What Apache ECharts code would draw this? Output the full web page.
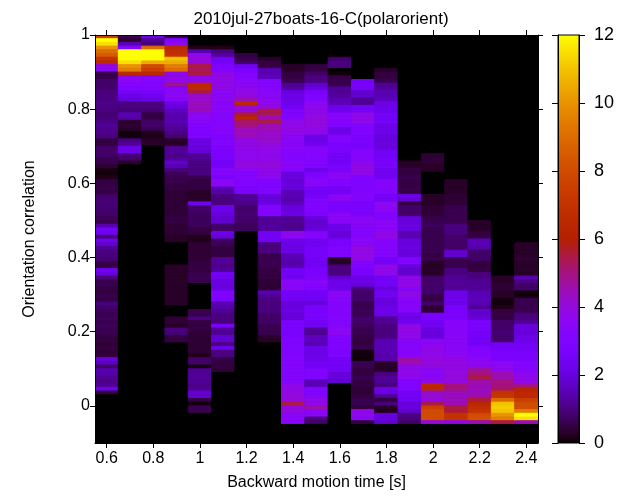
<!DOCTYPE html>
<html><head><meta charset="utf-8">
<script src="https://cdn.jsdelivr.net/npm/echarts@6/dist/echarts.min.js"></script>
<style>html,body{margin:0;padding:0;background:#fff}#c{width:621px;height:496px}</style>
</head><body><div id="c"></div>
<script>
// Column centres (Backward motion time [s]); each column is 0.1 wide
const xCenters = [0.6,0.7,0.8,0.9,1.0,1.1,1.2,1.3,1.4,1.5,1.6,1.7,1.8,1.9,2.0,2.1,2.2,2.3,2.4];
// Orientation-correlation bins of 0.01, listed from the top bin (0.99..1.00) down to (-0.10..-0.09)
const c06 = [7.5,12,11.5,10,9,8.5,7,6.5,3.8,3.5,
0.6,0.6,0.8,0.8,0.8,1.0,1.0,1.0,1.1,1.0,
1.0,0.9,0.9,1.1,1.2,1.1,1.1,1.0,0.5,0.5,
0.8,0.8,0.8,0.6,0.6,0.4,0.15,0.1,0.2,0.5,
0.5,0.6,0.5,0.8,0.9,0.9,0.9,0.8,0.8,0.7,
0.6,1.5,2.5,2.3,1.0,2.2,1.8,1.2,1.0,1.0,
0.9,0.6,0.5,2.4,2.0,1.0,0.6,0.6,0.5,0.5,
0.6,0.5,1.0,0.8,0.7,0.6,0.7,0.6,0.7,0.6,
0.6,0.5,0.5,0.4,0.5,0.4,0.5,2.0,1.6,0.8,
1.5,1.4,1.2,1.1,1.2,2.2,0.5,0,0,0,
0,0,0,0,0,0,0,0,0,0];
const c07 = [0.6,0.4,1.5,3.2,12,12,12,11.5,10,9.5,
6.5,3.6,3.5,3.2,3.0,2.6,2.2,2.0,1.0,1.0,
0.9,1.5,1.4,0.3,0.4,0.3,0.1,0.1,1.0,1.2,
2.2,2.2,0.9,0.8,0.3,0,0,0,0,0,
0,0,0,0,0,0,0,0,0,0,
0,0,0,0,0,0,0,0,0,0,
0,0,0,0,0,0,0,0,0,0,
0,0,0,0,0,0,0,0,0,0,
0,0,0,0,0,0,0,0,0,0,
0,0,0,0,0,0,0,0,0,0,
0,0,0,0,0,0,0,0,0,0];
const c08 = [2.2,1.2,1.0,9,12,12,12,10.5,8,7.5,
6.5,3.4,3.2,3.2,3.0,2.8,2.4,2.2,1.0,1.0,
0.9,0.5,0.5,0.8,0.8,0.6,0.2,0.2,0.3,0.3,
0,0,0,0,0,0,0,0,0,0,
0,0,0,0,0,0,0,0,0,0,
0,0,0,0,0,0,0,0,0,0,
0,0,0,0,0,0,0,0,0,0,
0,0,0,0,0,0,0,0,0,0,
0,0,0,0,0,0,0,0,0,0,
0,0,0,0,0,0,0,0,0,0,
0,0,0,0,0,0,0,0,0,0];
const c09 = [0.5,3.0,3.8,6.5,6.8,7,11,10.5,9.5,9,
3.8,3.8,3.8,5,3.2,3.5,3.6,3.4,2.2,2.0,
1.6,1.5,1.4,1.5,1.3,1.2,1.0,0.9,0.3,0.3,
1.2,1.2,1.1,1.2,1.8,1.5,1.0,0.7,0.6,0.6,
0.5,0.5,0.4,0.4,0.4,0.4,0.4,0.4,0.4,0.5,
0.5,0.4,0.4,0.4,0.3,0.3,0,0,0,0,
0,0,0.3,0.3,0.3,0.3,0.3,0.3,0.3,0.3,
0.3,0.3,0.3,0,0,0,0.4,0.4,0.3,1.0,
0.9,0.5,0.5,0,0,0,0,0,0,0,
0,0,0,0,0,0,0,0,0,0,
0,0,0,0,0,0,0,0,0,0];
const c10 = [0,0,0,0.2,1.5,3.8,4,4,5.5,5.3,
5.5,3.8,3.8,6.5,6.6,5.5,4.2,4.2,4.5,4.3,
4.5,3.5,3.6,3.4,3.0,3.0,2.9,3.0,2.0,2.1,
2.0,1.9,1.2,1.2,1.0,1.0,1.0,1.0,0.6,0.5,
0.5,0.5,0.3,0.3,0.3,2.4,0.8,0.8,0.7,0.7,
0.7,0.7,0.5,0.5,0.2,0.2,0.4,0.4,0.4,0.4,
0.4,0.5,0.5,0.5,0.6,0.6,0.6,0,0,0,
0,0,0,0,0.6,0.6,1.0,0.5,0.5,0.5,
0.4,0.4,0.4,0.4,0.4,0.4,0.2,0.8,0.8,0.1,
1.2,1.2,1.2,1.2,1.1,1.2,1.8,1.8,0.5,0.1,
0.6,0.6,0,0,0,0,0,0,0,0];
const c11 = [0,0,0,0.2,1.0,1.3,2.4,2.6,3.0,3.0,
3.8,3.9,3.8,3.9,3.8,3.6,3.5,3.6,3.4,3.5,
3.5,3.2,3.3,3.2,3.3,3.4,3.3,3.0,3.0,3.1,
2.9,2.8,2.8,2.7,2.5,2.6,3.3,3.2,2.8,3.6,
3.5,1.5,1.4,1.0,1.0,1.0,2.2,2.2,2.0,1.8,
1.8,0.8,0.8,2.2,2.0,0.7,0.7,0.5,0.5,0.5,
1.2,1.2,1.1,1.2,2.5,2.4,2.0,2.0,2.1,3.0,
3.0,2.9,1.5,1.4,1.2,1.0,1.0,1.0,2.8,1.2,
1.2,1.8,1.8,1.0,2.2,1.0,1.0,0.5,0.5,0.5,
0.4,0,0,0,0,0,0,0,0,0,
0,0,0,0,0,0,0,0,0,0];
const c12 = [0,0,0,0,0,0.5,0.6,0.8,2.4,2.8,
3.0,3.2,3.5,3.5,3.8,3.8,4.0,4.5,6.5,4.2,
4.0,5.5,6.4,5.2,5.0,4.5,4.4,4.5,3.8,3.9,
3.8,3.7,3.8,3.6,4.0,4.0,3.5,3.2,3.2,3.0,
3.0,2.9,2.8,1.2,1.2,1.1,0.8,0.8,0.9,0.8,
0.8,0.7,0.7,0,0,0,0,0,0,0,
0,0,0,0,0,0,0,0,0,0,
0,0,0,0,0,0,0,0,0,0,
0,0,0,0,0,0,0,0,0,0,
0,0,0,0,0,0,0,0,0,0,
0,0,0,0,0,0,0,0,0,0];
const c13 = [0,0,0,0,0,0,0.3,0.5,0.5,1.5,
1.5,1.6,3.2,3.2,3.3,3.5,3.5,3.6,3.8,3.9,
5.5,5.3,4.5,5.5,4.5,4.5,4.2,4.2,4.3,4.1,
3.8,3.8,3.7,3.8,4.0,4.0,3.8,3.8,3.6,3.0,
3.0,3.1,3.0,2.0,2.0,2.1,3.2,3.2,3.0,1.2,
1.2,1.3,1.2,2.5,2.5,2.4,1.0,1.0,1.0,0.6,
0.6,0.6,0.6,0.5,0.5,0.5,0.4,0.4,0.4,1.5,
1.2,1.0,1.0,1.0,1.0,0.8,0.8,0.8,0.6,0.6,
0.6,0.3,0.3,0,0,0,0,0,0,0,
0,0,0,0,0,0,0,0,0,0,
0,0,0,0,0,0,0,0,0,0];
const c14 = [0,0,0,0,0,0,0,0,0.3,0.3,
0.5,0.5,0.6,1.2,1.3,2.0,2.2,2.2,2.3,2.4,
3.0,3.0,3.1,3.8,3.8,3.9,3.8,3.5,3.5,3.4,
3.5,3.2,3.2,3.1,3.5,3.4,3.3,2.0,2.0,1.9,
2.0,2.0,1.5,1.5,1.4,1.6,2.0,2.0,2.1,1.2,
1.2,1.1,1.2,3.8,3.6,2.2,2.2,2.1,2.2,1.5,
1.5,1.4,1.5,2.5,2.5,2.4,3.5,3.4,3.5,2.5,
2.5,2.4,2.0,2.0,2.1,2.0,1.9,2.8,2.8,2.7,
2.8,2.8,3.0,3.0,3.1,3.0,3.0,3.2,3.2,3.3,
3.2,3.2,3.1,3.2,3.8,3.8,4.0,4.0,4.0,5.5,
4.0,4.0,3.5,3.5,3.4,0,0,0,0,0];
const c15 = [0,0,0,0,0,0,0,0,0.5,0.5,
0.8,1.0,1.0,1.8,2.0,2.8,3.0,3.0,3.6,3.8,
3.8,3.8,4.0,3.9,4.0,3.8,3.8,2.2,2.2,2.3,
3.3,3.2,3.3,3.2,3.2,3.0,2.2,2.9,3.0,3.5,
3.4,2.6,2.5,2.6,3.0,3.0,3.0,3.0,2.9,2.0,
1.8,1.9,2.0,3.3,3.2,2.4,2.4,2.6,2.6,2.6,
2.5,2.4,2.5,2.8,2.8,2.9,3.4,3.3,3.0,2.5,
2.5,2.4,2.0,2.8,2.8,2.8,2.7,2.5,2.5,1.2,
1.2,1.6,1.6,1.5,2.2,2.2,2.2,2.3,2.5,2.5,
3.0,3.0,3.0,1.5,1.5,3.0,3.0,3.1,3.8,3.8,
4.6,3.5,3.5,1.0,0.8,0,0,0,0,0];
const c16 = [0,0,0,0,0,0,0.8,1.0,1.0,0,
0.1,0.5,0.6,0.6,1.2,1.2,1.3,1.5,1.6,2.2,
2.3,3.3,3.4,3.3,3.0,2.2,2.2,3.2,3.2,2.8,
2.8,2.8,2.5,2.5,2.5,2.8,2.8,3.5,3.5,3.0,
3.0,2.5,2.5,3.5,3.5,2.8,2.8,2.8,3.5,3.5,
3.4,2.2,2.2,2.0,2.0,2.8,2.8,3.0,3.0,3.0,
0.3,0.3,1.0,1.0,1.0,1.8,2.2,2.2,2.2,3.5,
3.5,3.3,3.3,3.2,3.2,3.2,3.2,3.1,3.2,3.6,
3.6,3.0,3.0,3.0,3.0,2.9,3.0,2.5,2.5,2.5,
2.5,2.0,2.0,1.8,0,0,0,0,0,0,
0,0,0,0,0,0,0,0,0,0];
const c17 = [0,0,0,0,0,0,0,0,0,0,
0,0,2.5,2.8,2.6,1.8,1.8,1.2,1.2,2.5,
2.5,3.8,3.8,3.8,3.0,3.0,3.0,2.8,2.8,2.8,
2.8,3.3,3.3,3.2,3.8,3.8,3.9,3.8,3.0,3.0,
3.0,3.0,3.2,3.2,3.2,2.8,2.8,2.8,2.8,3.5,
3.5,3.4,3.2,3.2,3.2,3.5,3.5,3.9,3.9,3.8,
3.9,3.0,3.0,2.8,2.8,2.2,2.2,2.0,1.0,0.8,
0.8,0.8,0.6,0.6,0.7,0.6,0.8,0.8,0.7,0.6,
0.6,0.5,0.5,0.5,0.6,0.1,0.1,0.1,0.6,0.6,
0.5,0.5,0.6,0.5,0.5,0.4,0.4,0.5,0.6,0.6,
0.5,3.8,3.8,3.5,0.5,0,0,0,0,0];
const c18 = [0,0,0,0,0,0,0,0,0,0.3,
0.5,0.5,0.6,1.2,1.2,1.5,1.5,1.6,2.2,2.2,
2.3,2.5,2.5,2.6,2.2,2.2,2.2,2.0,2.0,2.1,
2.0,2.5,2.5,2.6,2.8,2.8,2.4,2.4,2.5,3.3,
3.3,3.3,3.2,2.5,2.5,3.6,3.6,3.5,3.0,3.0,
3.5,3.5,3.4,3.9,3.9,3.3,3.3,3.3,3.2,3.3,
2.5,2.5,3.8,3.8,3.8,2.5,2.5,2.5,2.0,2.4,
2.4,2.0,2.0,2.2,2.2,2.2,1.2,1.2,1.0,1.0,
1.0,1.0,1.5,1.5,1.5,1.5,1.4,1.5,0.3,0.3,
0.3,1.0,1.2,1.2,1.0,2.2,2.0,1.2,0.5,1.0,
0.3,0.2,2.0,2.0,1.8,0,0,0,0,0];
const c19 = [0,0,0,0,0,0,0,0,0,0,
0,0,0,0,0,0,0,0,0,0,
0,0,0,0,0,0,0,0,0,0,
0,0,0,0,0.3,0.3,0.5,0.5,0.6,0.5,
0.5,0.6,0.5,2.2,2.0,0.5,0.8,0.8,0.8,2.0,
2.0,2.1,2.0,1.5,1.5,2.0,2.0,2.1,2.0,2.0,
3.0,3.0,2.0,1.8,1.8,3.8,3.8,3.9,3.3,3.8,
3.8,3.4,3.3,3.4,3.3,2.2,2.2,2.4,3.8,3.9,
3.8,3.8,3.4,3.3,3.4,3.3,3.4,4.6,4.5,3.8,
3.8,3.8,3.7,3.0,3.0,3.0,2.5,2.5,2.4,2.0,
2.0,1.8,1.0,1.0,0.8,0,0,0,0,0];
const c20 = [0,0,0,0,0,0,0,0,0,0,
0,0,0,0,0,0,0,0,0,0,
0,0,0,0,0,0,0,0,0,0,
0,0,0.4,0.4,0.4,0.3,0.3,0,0,0,
0,0,0,0.3,0.3,0.3,0.4,0.4,0.4,0.6,
0.6,0.7,0.6,0.6,0.6,0.6,0.6,0.6,0.6,0.5,
0.6,0.3,0.3,0.3,0.3,0.8,0.8,0.8,0.8,0.8,
0.6,0.5,0.8,0.4,0.4,2.8,2.8,2.5,2.5,2.0,
2.0,2.0,3.5,3.5,3.8,3.8,3.8,4.0,4.0,4.0,
3.5,3.5,3.5,4.0,6.5,6.5,4.2,4.2,4.0,5.5,
7.5,8.0,8.0,8.0,4.0,0,0,0,0,0];
const c21 = [0,0,0,0,0,0,0,0,0,0,
0,0,0,0,0,0,0,0,0,0,
0,0,0,0,0,0,0,0,0,0,
0,0,0,0,0,0,0,0,0,0.3,
0.3,0.3,0.3,0.4,0.4,0.4,0.6,0.6,0.6,0.6,
0.6,1.0,1.0,1.0,0.8,0.8,0.8,0.8,1.8,1.8,
0.6,0.6,0.6,1.0,1.0,1.2,1.2,1.2,1.2,2.2,
2.2,2.3,2.2,2.8,2.8,2.8,2.8,3.4,3.4,3.4,
3.4,3.5,3.5,3.4,3.5,3.5,3.6,3.9,3.9,3.9,
3.9,4.0,4.0,4.0,5.0,5.0,4.4,4.4,4.4,4.5,
5.5,5.6,7.0,7.0,3.8,0,0,0,0,0];
const c22 = [0,0,0,0,0,0,0,0,0,0,
0,0,0,0,0,0,0,0,0,0,
0,0,0,0,0,0,0,0,0,0,
0,0,0,0,0,0,0,0,0,0,
0,0,0,0,0,0,0,0,0,0,
0.3,0.3,0.3,0.5,0.5,1.5,1.5,1.4,0.8,0.8,
0.8,0.5,0.5,0.5,1.0,1.0,1.2,1.2,1.2,1.5,
1.5,1.6,1.5,1.2,1.8,1.8,2.0,2.8,2.8,2.8,
2.5,2.5,2.6,2.5,3.0,3.2,3.2,3.6,3.6,3.8,
4.8,5.0,5.5,4.6,4.5,4.4,4.4,4.6,5.5,6.5,
6.8,7.0,8.0,8.2,4.5,0,0,0,0,0];
const c23 = [0,0,0,0,0,0,0,0,0,0,
0,0,0,0,0,0,0,0,0,0,
0,0,0,0,0,0,0,0,0,0,
0,0,0,0,0,0,0,0,0,0,
0,0,0,0,0,0,0,0,0,0,
0,0,0,0,0,0,0,0,0,0,
0,0,0,0,0,0.3,0.3,0.4,0.4,0.3,
0.3,0.1,0.1,0.2,0.5,0.5,0.5,0.8,0.8,0.8,
0.9,0.8,0.8,2.5,2.5,2.8,2.8,2.8,3.6,3.6,
3.7,4.5,4.5,5.0,5.0,5.2,7.0,7.2,9.0,11.0,
11.2,11.0,10.0,9.5,5.5,0,0,0,0,0];
const c24 = [0,0,0,0,0,0,0,0,0,0,
0,0,0,0,0,0,0,0,0,0,
0,0,0,0,0,0,0,0,0,0,
0,0,0,0,0,0,0,0,0,0,
0,0,0,0,0,0,0,0,0,0,
0,0,0,0,0,0,0.3,0.3,0.3,0.3,
0.4,0.3,0.3,0.3,0.3,1.5,1.0,0.8,0.8,0.1,
0.1,0.6,0.6,0.6,0.6,1.0,1.0,1.2,2.0,2.0,
2.0,2.2,2.2,2.5,2.5,2.8,2.8,2.8,3.2,3.2,
3.3,3.6,3.8,3.8,4.8,6.3,6.5,6.5,7.5,8.0,
8.0,9.5,12.0,11.5,4.5,0,0,0,0,0];
const columns = [c06,c07,c08,c09,c10,c11,c12,c13,c14,c15,c16,c17,c18,c19,c20,c21,c22,c23,c24];
const xTicks = [0.6,0.8,1.0,1.2,1.4,1.6,1.8,2.0,2.2,2.4];
const yTicks = [0,0.2,0.4,0.6,0.8,1.0];

const colW = 0.1, binH = 0.01, yTop = 1.0;
const cells = [];
columns.forEach((col, ci) => {
  col.forEach((v, i) => {
    cells.push([xCenters[ci], +(yTop - binH * (i + 0.5)).toFixed(4), v]);
  });
});

// gnuplot default palette (rgbformulae 7,5,15)
function gp(t){
  const r = Math.sqrt(t), g = t*t*t, b = Math.max(0, Math.sin(2*Math.PI*t));
  const h = x => Math.round(Math.min(1,Math.max(0,x))*255).toString(16).padStart(2,'0');
  return '#' + h(r) + h(g) + h(b);
}
const stops = [];
for (let k = 0; k <= 72; k++) stops.push(gp(k/72));
const gradStops = stops.map((c, k) => ({offset: 1 - k/72, color: c})).reverse();

const FONT = 'Liberation Sans, Arial, sans-serif';
const chart = echarts.init(document.getElementById('c'), null, {renderer:'canvas'});
const axisLineStyle = {color:'#000', width:1};
chart.setOption({
  animation: false,
  backgroundColor: '#fff',
  textStyle: {fontFamily: FONT, color:'#000'},
  title: {text:'2010jul-27boats-16-C(polarorient)', left: 316, top: 6, textAlign:'center',
    textStyle:{fontFamily:FONT, fontSize:17, fontWeight:'normal', color:'#000'}},
  grid: [
    {left:95, top:35, width:443, height:408, show:true, backgroundColor:'#000', borderWidth:0,
     containLabel:false, outerBoundsMode:'none'},
    {left:558, top:35, width:21, height:408, containLabel:false, outerBoundsMode:'none'}
  ],
  xAxis: [
    {gridIndex:0, type:'value', min:0.55, max:2.45, position:'bottom', z:10,
     axisLine:{show:true, onZero:false, lineStyle:axisLineStyle},
     axisTick:{show:true, length:5, customValues:xTicks, lineStyle:axisLineStyle},
     axisLabel:{show:true, customValues:xTicks, fontSize:16, color:'#000', margin:8, fontFamily:FONT,
       formatter: v => String(+(+v).toFixed(2))},
     splitLine:{show:false},
     name:'Backward motion time [s]', nameLocation:'middle', nameGap:32,
     nameTextStyle:{fontSize:16, color:'#000', fontFamily:FONT}},
    {gridIndex:0, type:'value', min:0.55, max:2.45, position:'top', z:10,
     axisLine:{show:true, onZero:false, lineStyle:axisLineStyle},
     axisTick:{show:true, length:5, customValues:xTicks, lineStyle:axisLineStyle},
     axisLabel:{show:false}, splitLine:{show:false}},
    {gridIndex:1, type:'value', min:0, max:1, show:false}
  ],
  yAxis: [
    {gridIndex:0, type:'value', min:-0.1, max:1.0, position:'left', z:10,
     axisLine:{show:true, onZero:false, lineStyle:axisLineStyle},
     axisTick:{show:true, length:5, customValues:yTicks, lineStyle:axisLineStyle},
     axisLabel:{show:true, customValues:yTicks, fontSize:16, color:'#000', margin:5, fontFamily:FONT,
       formatter: v => String(+(+v).toFixed(2))},
     splitLine:{show:false},
     name:'Orientation correlation', nameLocation:'middle', nameGap:57, nameRotate:90,
     nameTextStyle:{fontSize:16, color:'#000', fontFamily:FONT}},
    {gridIndex:0, type:'value', min:-0.1, max:1.0, position:'right', z:10,
     axisLine:{show:true, onZero:false, lineStyle:axisLineStyle},
     axisTick:{show:true, length:5, customValues:yTicks, lineStyle:axisLineStyle},
     axisLabel:{show:false}, splitLine:{show:false}},
    {gridIndex:1, type:'value', min:0, max:12, interval:2, position:'right', z:10,
     axisLine:{show:true, onZero:false, lineStyle:axisLineStyle},
     axisTick:{show:true, length:6, lineStyle:axisLineStyle},
     axisLabel:{show:true, fontSize:18, color:'#000', margin:15, fontFamily:FONT},
     splitLine:{show:false}},
    {gridIndex:1, type:'value', min:0, max:12, interval:2, position:'left', z:10,
     axisLine:{show:true, onZero:false, lineStyle:axisLineStyle},
     axisTick:{show:true, length:6, lineStyle:axisLineStyle},
     axisLabel:{show:false}, splitLine:{show:false}}
  ],
  visualMap: [{type:'continuous', show:false, min:0, max:12, dimension:2, seriesIndex:0,
    inRange:{color: stops}}],
  series: [
    {type:'custom', xAxisIndex:0, yAxisIndex:0, clip:true, silent:true, data: cells,
     encode:{x:0, y:1},
     renderItem: (params, api) => {
       const x = api.value(0), y = api.value(1);
       const p0 = api.coord([x - colW/2, y + binH/2]);
       const p1 = api.coord([x + colW/2, y - binH/2]);
       const c = api.visual('color');
       return {type:'rect', shape:{x:p0[0], y:p0[1], width:p1[0]-p0[0], height:p1[1]-p0[1]},
         style:{fill:c, stroke:c, lineWidth:1}};
     }},
    {type:'custom', xAxisIndex:2, yAxisIndex:2, silent:true, data:[[0,0]],
     renderItem: (params, api) => {
       const a = api.coord([0, 12]), b = api.coord([1, 0]);
       return {type:'rect', shape:{x:a[0], y:a[1], width:b[0]-a[0], height:b[1]-a[1]},
         style:{fill:new echarts.graphic.LinearGradient(0,0,0,1,gradStops), stroke:'#000', lineWidth:1}};
     }}
  ]
});
</script>
</body></html>
